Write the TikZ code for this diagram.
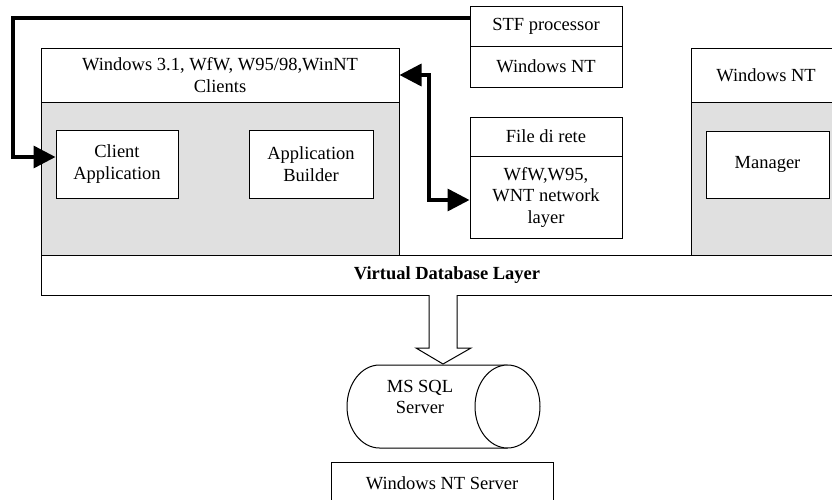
\documentclass[tikz,border=0pt]{standalone}
\usepackage{fontspec}
\setmainfont{Liberation Serif}
\usetikzlibrary{arrows.meta,calc}
\tikzset{
  box/.style={draw=black, line width=1pt, fill=white, inner sep=0pt, align=center,
    font=\fontsize{18.5}{21.5}\selectfont},
  shaded/.style={box, fill=black!12},
  conn/.style={draw=black, line width=3.5pt},
}
\begin{document}
\begin{tikzpicture}[x=1pt,y=-1pt]
\useasboundingbox (0,0) rectangle (832,499);
% left client area
\node[box, minimum width=358pt, minimum height=54pt] (clientsHead) at (220,75) {Windows 3.1, WfW, W95/98,WinNT\\Clients};
\node[shaded, minimum width=358pt, minimum height=153pt] (clientsBody) at (220,178.5) {};
\node[box, minimum width=122pt, minimum height=68pt] (clientApp) at (117,164) {Client\\Application};
\node[box, minimum width=124pt, minimum height=68pt] (appBuilder) at (311,164) {Application\\Builder};
% STF processor
\node[box, minimum width=152pt, minimum height=40pt] (stfTop) at (546,26) {STF processor};
\node[box, minimum width=152pt, minimum height=41pt] (stfLow) at (546,66.5) {Windows NT};
% File di rete
\node[box, minimum width=152pt, minimum height=39pt] (fileTop) at (546,136.5) {File di rete};
\node[box, minimum width=152pt, minimum height=82pt] (fileLow) at (546,197) {WfW,W95,\\WNT network\\layer};
% right Windows NT
\node[box, minimum width=150pt, minimum height=54pt] (ntHead) at (766,75) {Windows NT};
\node[shaded, minimum width=150pt, minimum height=153pt] (ntBody) at (766,178.5) {};
\node[box, minimum width=123pt, minimum height=67pt] (manager) at (767.5,164.5) {Manager};
% virtual database layer
\node[box, minimum width=812pt, minimum height=40pt, font=\fontsize{18.5}{21.5}\selectfont\bfseries] (vdl) at (447,275) {Virtual Database Layer};
% block arrow
\draw[line width=1pt, fill=white] (429,295) -- (429,348) -- (416,348) -- (443,364) -- (471,348) -- (457,348) -- (457,295);
% cylinder
\draw[line width=1pt, fill=white] (507.5,365) -- (379.5,365) arc[start angle=-90, end angle=-270, x radius=32.5, y radius=41.5] -- (507.5,448);
\draw[line width=1pt, fill=white] (507.5,406.5) ellipse[x radius=32.5, y radius=41.5];
\node[align=center, inner sep=0pt, font=\fontsize{18.5}{21.5}\selectfont] (db) at (420,397) {MS SQL\\Server};
% Windows NT Server
\node[box, minimum width=222pt, minimum height=43pt] (ntServer) at (442,483.5) {Windows NT Server};
% connectors
\coordinate (loopA) at (13,18);
\coordinate (loopB) at (13,157);
\draw[conn, -{Triangle[length=22pt,width=22pt]}] ([yshift=8pt]stfTop.west) -- (loopA) -- (loopB) -- ([yshift=7pt]clientApp.west);
\coordinate (dA) at (429,75);
\coordinate (dB) at (429,200);
\draw[conn, {Triangle[length=22pt,width=22pt]}-{Triangle[length=22pt,width=22pt]}] (clientsHead.east) -- (dA) -- (dB) -- ([yshift=-3pt]fileLow.west);
\end{tikzpicture}
\end{document}
